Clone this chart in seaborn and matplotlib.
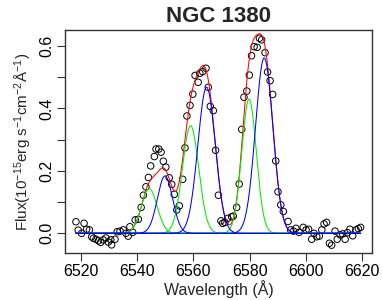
import numpy as np
import pandas as pd
import matplotlib
matplotlib.use("Agg")
import matplotlib.pyplot as plt
import matplotlib.ticker as mticker
import seaborn as sns

# ---- data ----
wave = [6518.2, 6519.0, 6520.2, 6521.1, 6522.0, 6523.0, 6523.8, 6524.4, 6525.3, 6526.2,
        6527.0, 6527.9, 6528.9, 6529.7, 6530.6, 6530.9, 6532.1, 6532.9, 6533.9, 6535.1,
        6536.0, 6536.8, 6537.4, 6538.4, 6539.3, 6540.4, 6541.4, 6542.2, 6543.1, 6544.0,
        6544.8, 6546.1, 6546.7, 6547.7, 6548.5, 6549.3, 6550.2, 6551.4, 6552.3, 6553.2,
        6554.1, 6555.0, 6556.2, 6557.0, 6557.7, 6558.8, 6559.8, 6560.6, 6561.7, 6562.3,
        6563.3, 6564.5, 6565.3, 6566.0, 6567.1, 6567.9, 6568.9, 6569.8, 6570.4, 6571.2,
        6572.2, 6573.6, 6574.2, 6575.4, 6576.3, 6577.2, 6578.0, 6579.0, 6579.9, 6580.7,
        6581.6, 6582.7, 6583.5, 6584.3, 6585.5, 6586.4, 6587.3, 6588.2, 6589.3, 6590.1,
        6591.1, 6592.0, 6593.7, 6594.6, 6595.6, 6596.5, 6597.6, 6599.1, 6600.1, 6601.0,
        6602.1, 6602.9, 6603.9, 6604.8, 6605.7, 6606.5, 6607.4, 6608.4, 6609.2, 6610.4,
        6611.2, 6612.2, 6613.1, 6614.0, 6614.8, 6615.7, 6616.7, 6617.9, 6618.7, 6619.5]
flux = [0.037, 0.010, 0.000, 0.032, 0.013, 0.011, -0.011, -0.016, -0.019, -0.024,
        -0.029, -0.021, -0.015, -0.028, -0.021, -0.037, -0.019, 0.005, 0.007, 0.011,
        0.000, -0.009, 0.021, 0.003, 0.043, 0.045, 0.083, 0.122, 0.149, 0.179,
        0.216, 0.246, 0.270, 0.270, 0.260, 0.231, 0.212, 0.178, 0.157, 0.125,
        0.075, 0.088, 0.173, 0.274, 0.376, 0.410, 0.446, 0.506, 0.484, 0.513,
        0.518, 0.529, 0.468, 0.407, 0.393, 0.266, 0.122, 0.040, 0.032, 0.035,
        0.048, 0.053, 0.055, 0.083, 0.158, 0.333, 0.436, 0.456, 0.507, 0.569,
        0.598, 0.596, 0.625, 0.620, 0.579, 0.517, 0.489, 0.445, 0.232, 0.133,
        0.091, 0.070, 0.038, 0.011, 0.007, 0.016, 0.003, 0.019, 0.011, 0.013,
        -0.019, 0.000, -0.011, -0.009, 0.011, 0.030, 0.035, -0.032, -0.038, 0.007,
        -0.019, -0.005, -0.002, -0.019, 0.002, 0.013, -0.008, 0.011, 0.015, 0.019]

# Gaussian fit components (centre, amplitude, sigma)
blue_centers = [6549.9, 6564.7, 6585.2]
blue_amps = [0.184, 0.468, 0.562]
blue_sigmas = [2.7, 3.1, 3.1]
green_centers = [6544.3, 6559.0, 6579.8]
green_amps = [0.143, 0.345, 0.430]
green_sigmas = [2.8, 2.9, 2.6]

x_ticks = [6520, 6540, 6560, 6580, 6600, 6620]
y_ticks = [0.0, 0.1, 0.2, 0.3, 0.4, 0.5, 0.6]
y_tick_labels = ["0.0", "", "0.2", "", "0.4", "", "0.6"]

# ---- plotting ----
sns.set_style("ticks")
plt.rcParams['font.family'] = ['Liberation Sans', 'DejaVu Sans']
plt.rcParams['mathtext.fontset'] = 'custom'
plt.rcParams['mathtext.rm'] = 'Liberation Sans'
plt.rcParams['mathtext.it'] = 'Liberation Sans'

fig = plt.figure(figsize=(3.82, 3.0), dpi=100)
ax = fig.add_axes([64.5 / 382, 1 - 253.3 / 300, (372.3 - 64.5) / 382, (253.3 - 30) / 300])

grid = np.linspace(min(wave), max(wave), 800)

def gauss(c, a, s):
    return a * np.exp(-(grid - c) ** 2 / (2 * s ** 2))

blue_parts = [gauss(c, a, s) for c, a, s in zip(blue_centers, blue_amps, blue_sigmas)]
green_parts = [gauss(c, a, s) for c, a, s in zip(green_centers, green_amps, green_sigmas)]
total = np.sum(blue_parts, axis=0) + np.sum(green_parts, axis=0)

pts = pd.DataFrame({"wave": wave, "flux": flux})
sns.scatterplot(data=pts, x="wave", y="flux", ax=ax, s=22, marker="o",
                facecolor="none", edgecolor="black", linewidth=0.7, zorder=2)

sns.lineplot(x=grid, y=total, ax=ax, color="#FF0000", lw=0.75, zorder=3)
for g in green_parts:
    sns.lineplot(x=grid, y=g, ax=ax, color="#00EE00", lw=0.75, zorder=4)
for b in blue_parts:
    sns.lineplot(x=grid, y=b, ax=ax, color="#0000FF", lw=0.75, zorder=5)

ax.set_xlim(6514.13, 6623.67)
ax.set_ylim(-0.0641, 0.6516)
ax.xaxis.set_major_locator(mticker.FixedLocator(x_ticks))
ax.yaxis.set_major_locator(mticker.FixedLocator(y_ticks))
ax.set_yticklabels(y_tick_labels, rotation=90, va="center")
ax.tick_params(axis="both", direction="out", length=6, width=0.8, color="#333333",
               labelsize=11.5, pad=1.5, labelcolor="black")

for sp in ax.spines.values():
    sp.set_visible(True)
    sp.set_color("#333333")
    sp.set_linewidth(1.0)

ax.set_xlabel("Wavelength (Å)", fontsize=11.5, labelpad=1)
ax.set_ylabel(r"Flux(10$^{-15}$erg s$^{-1}$cm$^{-2}$Å$^{-1}$)", fontsize=11, labelpad=4)
ax.set_title("NGC 1380", fontsize=16, fontweight="bold", pad=6)

fig.savefig("out.png", dpi=100)
